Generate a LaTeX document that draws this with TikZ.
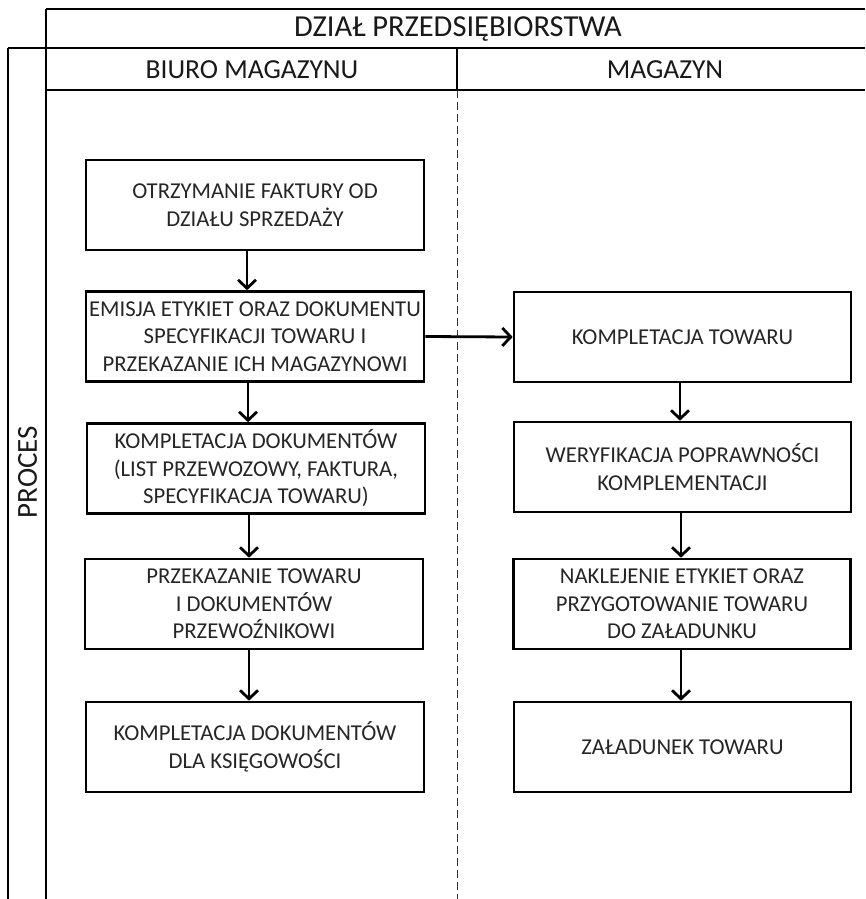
\documentclass[tikz,border=0pt]{standalone}
\usepackage{fontspec}
\setmainfont{Carlito}
\usetikzlibrary{arrows.meta}
\begin{document}
\begin{tikzpicture}[x=1pt,y=-1pt,
  frame/.style={line width=2pt,black},
  procbox/.style={draw,line width=2.6pt,minimum width=338pt,minimum height=90pt,inner sep=0pt,align=center,font=\fontsize{22.7}{27.5}\selectfont,text=black!85},
  flow/.style={line width=2.8pt,-{Straight Barb[length=8.5pt,width=18pt,line width=2.8pt]}},
  hdr/.style={font=\fontsize{27.5}{30}\selectfont,text=black!90}]
\useasboundingbox (0,0) rectangle (865,899);
% frame lines
\draw[frame] (46,9) -- (865,9);
\draw[frame] (46,9) -- (46,899);
\draw[frame] (8,48.5) -- (865,48.5);
\draw[frame] (8,48.5) -- (8,899);
\draw[frame] (46,90) -- (865,90);
\draw[frame] (457,48.5) -- (457,90);
\draw[line width=1pt,black!80,dash pattern=on 8pt off 4pt] (457,90) -- (457,899);
% headers
\node[hdr,font=\fontsize{30.5}{32}\selectfont] (dzial) at (458,29) {DZIAŁ PRZEDSIĘBIORSTWA};
\node[hdr] (biuro) at (252,69.5) {BIURO MAGAZYNU};
\node[hdr] (magazyn) at (665,69.5) {MAGAZYN};
\node[hdr,font=\fontsize{29}{30}\selectfont,rotate=90] (proces) at (27.5,472) {PROCES};
% left column
\node[procbox] (b1) at (255,205) {OTRZYMANIE FAKTURY OD\\DZIAŁU SPRZEDAŻY};
\node[procbox] (b2) at (255,336.5) {EMISJA ETYKIET ORAZ DOKUMENTU\\SPECYFIKACJI TOWARU I\\PRZEKAZANIE ICH MAGAZYNOWI};
\node[procbox] (b3) at (256,468.5) {KOMPLETACJA DOKUMENTÓW\\(LIST PRZEWOZOWY, FAKTURA,\\SPECYFIKACJA TOWARU)};
\node[procbox] (b4) at (254,604) {PRZEKAZANIE TOWARU\\I DOKUMENTÓW\\PRZEWOŹNIKOWI};
\node[procbox] (b5) at (255,747) {KOMPLETACJA DOKUMENTÓW\\DLA KSIĘGOWOŚCI};
% right column
\node[procbox,minimum width=337pt] (m1) at (682.5,337) {KOMPLETACJA TOWARU};
\node[procbox,minimum width=337pt] (m2) at (682.5,467) {WERYFIKACJA POPRAWNOŚCI\\KOMPLEMENTACJI};
\node[procbox,minimum width=337pt] (m3) at (682,604) {NAKLEJENIE ETYKIET ORAZ\\PRZYGOTOWANIE TOWARU\\DO ZAŁADUNKU};
\node[procbox,minimum width=337pt] (m4) at (682.5,747) {ZAŁADUNEK TOWARU};
% arrows
\draw[flow] (b1.south -| 247,0) -- (b2.north -| 247,0);
\draw[flow] (b2.south -| 248,0) -- (b3.north -| 248,0);
\draw[flow] (b3.south -| 249,0) -- (b4.north -| 249,0);
\draw[flow] (b4.south -| 249,0) -- (b5.north -| 249,0);
\draw[flow] (b2.east) -- (m1.west);
\draw[flow] (m1.south -| 680,0) -- (m2.north -| 680,0);
\draw[flow] (m2.south -| 681,0) -- (m3.north -| 681,0);
\draw[flow] (m3.south -| 681,0) -- (m4.north -| 681,0);
\end{tikzpicture}
\end{document}
